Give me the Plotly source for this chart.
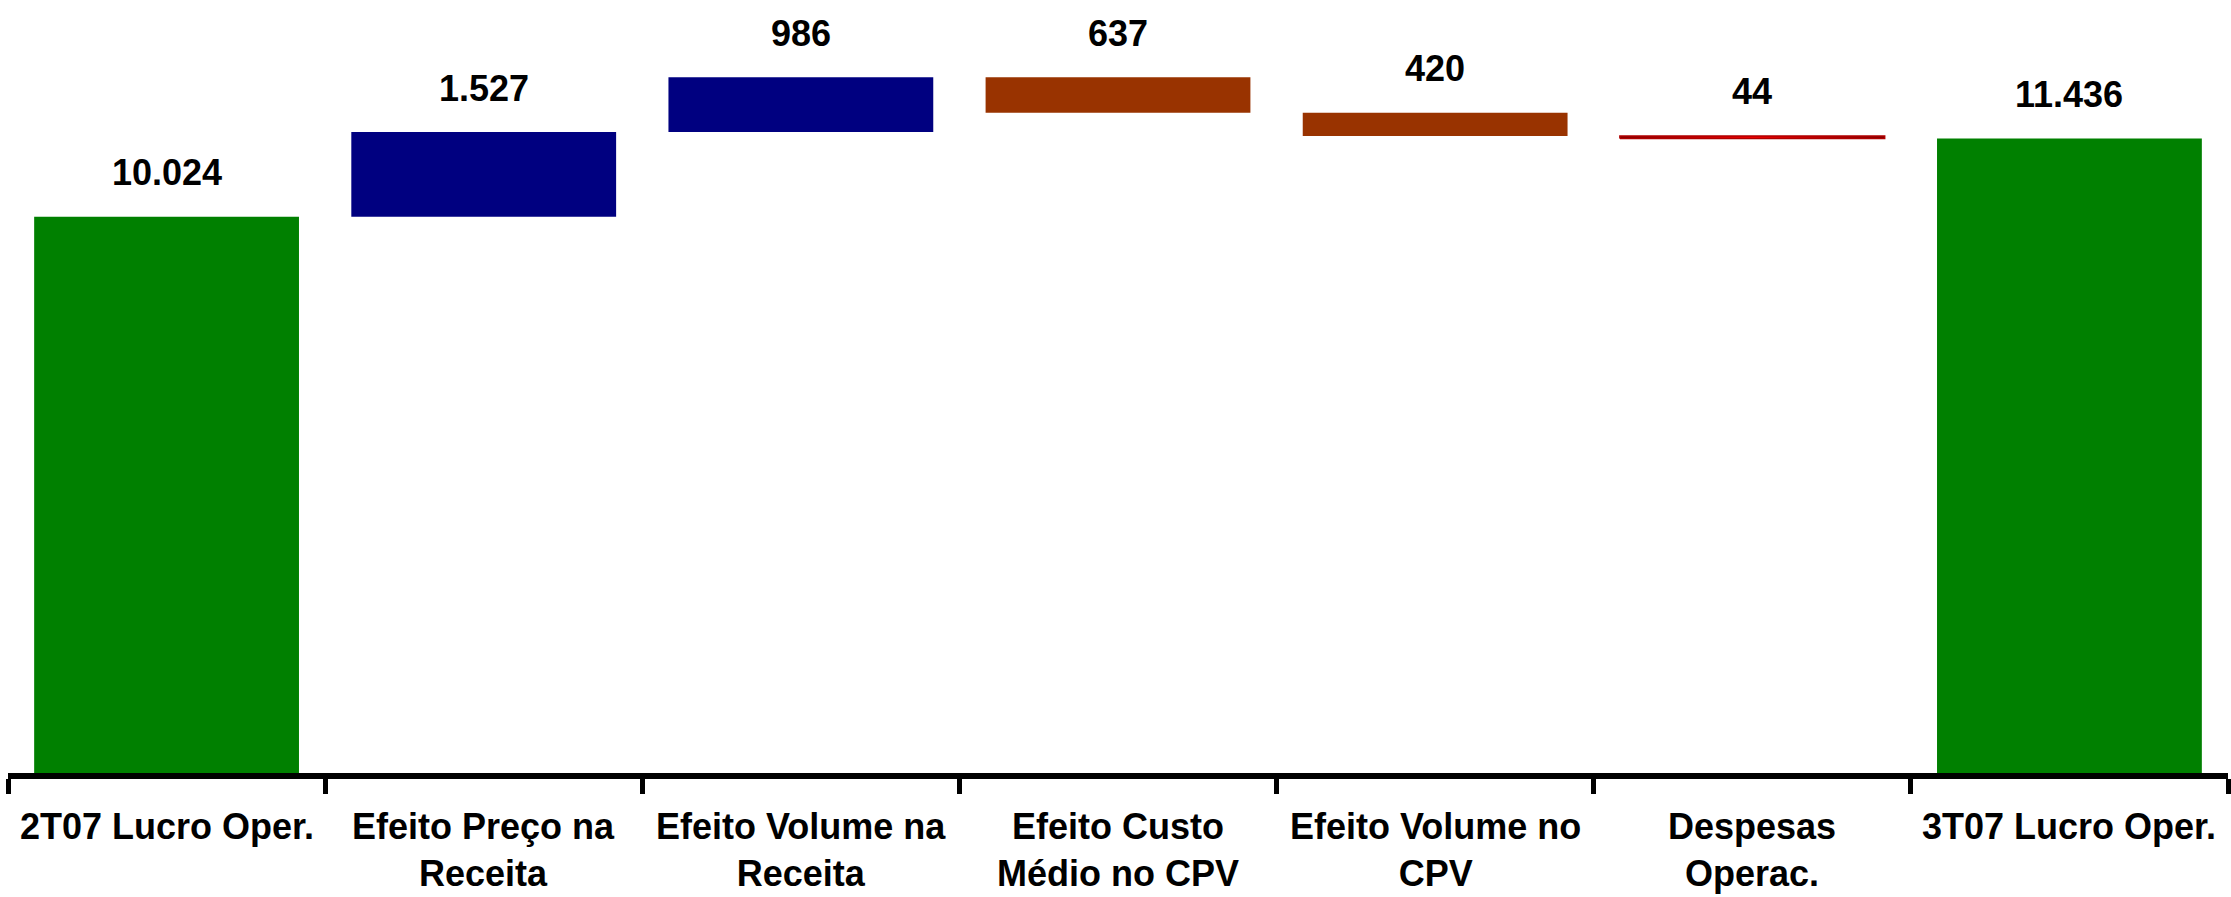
import plotly.graph_objects as go

# Waterfall of operating profit, 2T07 -> 3T07 (R$ mil)
categories = [
    "2T07 Lucro Oper.",
    "Efeito Preço na<br>Receita",
    "Efeito Volume na<br>Receita",
    "Efeito Custo<br>Médio no CPV",
    "Efeito Volume no<br>CPV",
    "Despesas<br>Operac.",
    "3T07 Lucro Oper.",
]
measures = ["absolute", "relative", "relative", "relative", "relative", "relative", "total"]
values = [10024, 1527, 986, -637, -420, -44, 11436]
labels = ["10.024", "1.527", "986", "637", "420", "44", "11.436"]
colors = ["#008000", "#000080", "#000080", "#993300", "#993300", None, "#008000"]

GRADIENT_IDX = 5  # the small expense bar is painted with a red gradient

# floating bar extents from the running total
bases, heights = [], []
running = 0
for m, v in zip(measures, values):
    if m in ("absolute", "total"):
        bases.append(0); heights.append(v); running = v
    else:
        lo = min(running, running + v)
        bases.append(lo); heights.append(abs(v)); running += v

bar_colors = [c if c is not None else "rgba(0,0,0,0)" for c in colors]
BAR_W = 0.835
FONT = "Liberation Sans, Arial, sans-serif"

fig = go.Figure()
fig.add_trace(go.Bar(
    x=list(range(len(categories))), y=heights, base=bases,
    marker=dict(color=bar_colors, line=dict(width=0)),
    width=BAR_W, hoverinfo="skip", showlegend=False,
))

# gradient-filled thin bar
gx0 = GRADIENT_IDX - BAR_W / 2
gx1 = GRADIENT_IDX + BAR_W / 2
gy0 = bases[GRADIENT_IDX]
gy1 = bases[GRADIENT_IDX] + heights[GRADIENT_IDX]
fig.add_trace(go.Scatter(
    x=[gx0, gx1, gx1, gx0, gx0], y=[gy0, gy0, gy1, gy1, gy0],
    mode="lines", line=dict(width=1.5, color="#B00000"),
    fill="toself",
    fillgradient=dict(type="horizontal",
                      colorscale=[[0, "#7A0000"], [0.5, "#FF0000"], [1, "#7A0000"]]),
    hoverinfo="skip", showlegend=False,
))

# value labels above the upper edge of each bar
for i, lab in enumerate(labels):
    top = bases[i] + heights[i]
    fig.add_annotation(
        x=i, y=top, text=lab, showarrow=False,
        yanchor="middle", yshift=44,
        font=dict(family=FONT, size=36, color="black", weight="bold"),
    )

# category names below the axis
for i, cat in enumerate(categories):
    fig.add_annotation(
        x=i, y=0, text=cat, showarrow=False,
        yanchor="top", yshift=-31,
        font=dict(family=FONT, size=36, color="black", weight="bold"),
    )

fig.update_layout(
    width=2231, height=897,
    margin=dict(l=8, r=3, t=0, b=124),
    paper_bgcolor="white", plot_bgcolor="white",
    showlegend=False,
    xaxis=dict(
        range=[-0.5, 6.5],
        tickmode="array",
        tickvals=[i - 0.5 for i in range(len(categories) + 1)],
        ticktext=[""] * (len(categories) + 1),
        ticks="outside", ticklen=15, tickwidth=5, tickcolor="black",
        showline=True, linecolor="black", linewidth=6,
        showgrid=False, zeroline=False, fixedrange=True,
    ),
    yaxis=dict(range=[0, 13930], visible=False, fixedrange=True),
)

fig.write_html("out.html")
